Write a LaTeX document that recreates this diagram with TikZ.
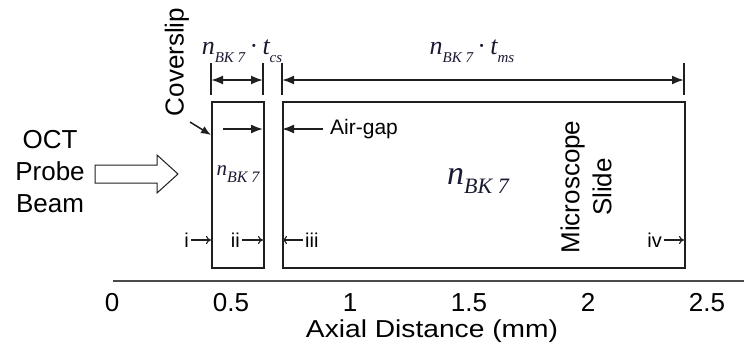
\documentclass[tikz,border=0pt]{standalone}
\usepackage{fontspec}
\setmainfont{Liberation Sans}
\newfontfamily\tnr{Liberation Serif}
\usetikzlibrary{arrows.meta}
\definecolor{ink}{HTML}{1F1F1F}
\definecolor{axisgray}{HTML}{4A4A4A}
\definecolor{nav}{HTML}{1A1A33}
\newcommand\fs[1]{\fontsize{#1}{#1}\selectfont}
\begin{document}
\begin{tikzpicture}[x=1pt,y=-1pt,
  lbl/.style={inner sep=0pt, font=\fs{26}},
  sm/.style={inner sep=0pt, font=\fs{20}},
  mathlbl/.style={inner sep=0pt, text=nav, font=\tnr\itshape},
  box/.style={draw=ink, line width=2pt, inner sep=0pt, anchor=north west},
  dim/.style={draw=ink, line width=2pt, {Latex[length=12pt,width=9pt]}-{Latex[length=12pt,width=9pt]}},
  onehead/.style={draw=ink, line width=1.8pt, -{Latex[length=12pt,width=9pt]}},
  ext/.style={draw=ink, line width=1.8pt},
  tiny/.style={draw=ink, line width=1.1pt, -{To[length=5pt,width=8pt]}},
  ]
\useasboundingbox (0,0) rectangle (744,354);
\fill[white] (0,0) rectangle (744,354);

% boxes
\node[box, minimum width=52pt, minimum height=166pt] (cs) at (211,101) {};
\node[box, minimum width=402pt, minimum height=166pt] (ms) at (282,101) {};

% extension lines
\foreach \n/\x in {a/211,b/263,c/282,d/684}{
  \coordinate (\n t) at (\x,63);
  \coordinate (\n b) at (\x,95);
  \coordinate (\n m) at (\x,80);
  \draw[ext] (\n t) -- (\n b);
}
\draw[dim] (am) -- (bm);
\draw[dim] (cm) -- (dm);

% dimension labels
\node[mathlbl, anchor=base] (hcs) at (242,54)
  {\fs{26}n\raisebox{-8pt}{\fs{15}BK 7}\,{\upshape ·}\,t\raisebox{-8pt}{\fs{15}cs}};
\node[mathlbl, anchor=base] (hms) at (472,54)
  {\fs{26}n\raisebox{-8pt}{\fs{15}BK 7}\,{\upshape ·}\,t\raisebox{-8pt}{\fs{15}ms}};

% coverslip label and arrow
\node[lbl, rotate=90] (cov) at (177,62) {Coverslip};
\coordinate (cvs) at (190,122);
\coordinate (cve) at (211,135);
\draw[draw=ink, line width=1.5pt, -{Latex[length=10pt,width=8pt]}] (cvs) -- (cve);

% inner arrows
\coordinate (ia) at (223,129);
\coordinate (ib) at (263,129);
\coordinate (ga) at (323,129);
\coordinate (gb) at (282,129);
\draw[onehead] (ia) -- (ib);
\draw[onehead] (ga) -- (gb);
\node[sm, font=\fs{21}, anchor=west] (air) at (330,129) {Air-gap};

% refractive index labels
\node[mathlbl, anchor=base] (ncs) at (238,175)
  {\fs{21}n\raisebox{-7pt}{\fs{16}BK 7}};
\node[mathlbl, anchor=base] (nms) at (478,184)
  {\fs{34}n\raisebox{-9pt}{\fs{22}BK 7}};

% OCT probe beam
\node[inner sep=0pt, align=center, font=\fontsize{26}{32}\selectfont] (oct) at (50,172) {OCT\\Probe\\Beam};
\draw[draw=ink, line width=1pt, fill=white]
  (95,165) -- (157,165) -- (157,155) -- (178,174) -- (157,193) -- (157,183) -- (95,183) -- cycle;

% microscope slide label
\node[inner sep=0pt, rotate=90, align=center, font=\fontsize{26}{32}\selectfont] (msl) at (586,187) {Microscope\\Slide};

% interface labels
\node[sm, anchor=east] (li) at (189,240) {i};
\coordinate (lia) at (191,240); \coordinate (lib) at (211,240);
\draw[tiny] (lia) -- (lib);
\node[sm, anchor=east] (lii) at (240,240) {ii};
\coordinate (liia) at (242,240); \coordinate (liib) at (263,240);
\draw[tiny] (liia) -- (liib);
\node[sm, anchor=west] (liii) at (305,240) {iii};
\coordinate (liiia) at (303,240); \coordinate (liiib) at (282,240);
\draw[tiny] (liiia) -- (liiib);
\node[sm, anchor=east] (liv) at (662,240) {iv};
\coordinate (liva) at (664,240); \coordinate (livb) at (684,240);
\draw[tiny] (liva) -- (livb);

% axis
\coordinate (ax0) at (113,281);
\coordinate (ax1) at (744,281);
\draw[draw=axisgray, line width=2.6pt] (ax0) -- (ax1);
\foreach \v/\t in {0/0,0.5/0.5,1/1,1.5/1.5,2/2,2.5/2.5}{
  \node[inner sep=0pt, font=\fs{26}, anchor=base] at (112+238*\v,311) {\t};
}
\node[inner sep=0pt, font=\fs{24.5}, xscale=1.15, anchor=base] (xl) at (432,337) {Axial Distance (mm)};
\end{tikzpicture}
\end{document}
